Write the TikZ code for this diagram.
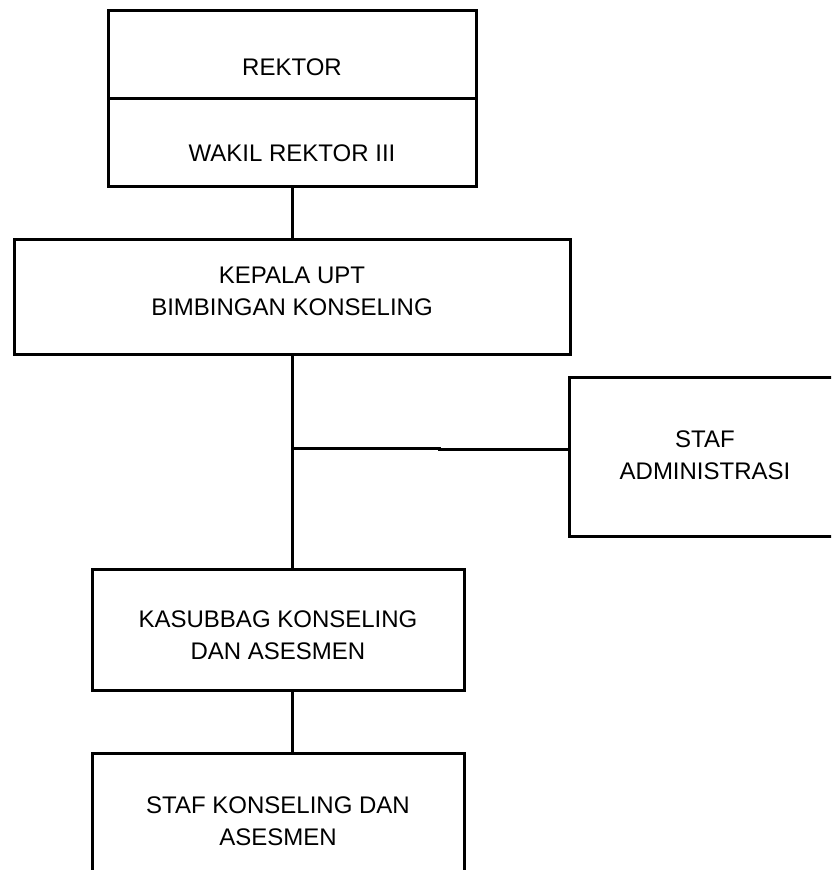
\documentclass[tikz,border=0pt]{standalone}
\usepackage{fontspec}
\setmainfont{Liberation Sans}
\begin{document}
\begin{tikzpicture}[x=1pt, y=-1pt, line width=3pt,
    unitbox/.style 2 args={draw, minimum width=#1pt, minimum height=#2pt, inner sep=0pt},
    lbl/.style={align=center, inner sep=0pt, font=\fontsize{24}{32}\selectfont}]
    \clip (0,0) rectangle (831,870);

    % Boxes
    \node[unitbox={368}{88}] (rektor) at (292,54) {};
    \node[unitbox={368}{88}] (wakil) at (292,142) {};
    \node[unitbox={556}{115}] (kepala) at (292,296.5) {};
    \node[unitbox={272}{159}] (admin) at (705,456.5) {};
    \node[unitbox={372}{121}] (kasubbag) at (278,629.5) {};
    \node[unitbox={372}{121}] (stafkons) at (278,813.5) {};

    % Labels
    \node[lbl] (rektortxt) at (292,67) {REKTOR};
    \node[lbl] (wakiltxt) at (292,153) {WAKIL REKTOR III};
    \node[lbl] (kepalatxt) at (292,291) {KEPALA UPT\\BIMBINGAN KONSELING};
    \node[lbl] (admintxt) at (705,455) {STAF\\ADMINISTRASI};
    \node[lbl] (kasubbagtxt) at (278,635.5) {KASUBBAG KONSELING\\DAN ASESMEN};
    \node[lbl] (stafkonstxt) at (278,821) {STAF KONSELING DAN\\ASESMEN};

    % Connectors
    \coordinate (branch) at (292,448);
    \coordinate (jog) at (439,448);
    \coordinate (jogend) at (439,449.5);
    \draw (wakil.south) -- (kepala.north);
    \draw (kepala.south) -- (kepala.south |- kasubbag.north);
    \draw (branch) -- (jog) -- (jogend) -- (jogend -| admin.west);
    \draw (kasubbag.south -| kepala.south) -- (stafkons.north -| kepala.south);
\end{tikzpicture}
\end{document}
